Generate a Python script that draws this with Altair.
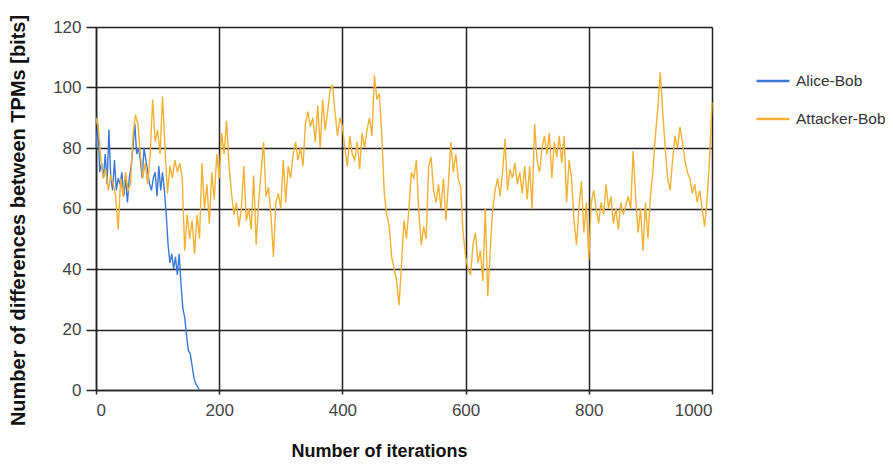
import altair as alt
import pandas as pd

# Alice-Bob: iteration step 3
alice_iter = list(range(0, 169, 3))
alice_vals = [80, 88, 72, 75, 70, 78, 68, 86, 70, 66,
              76, 66, 70, 68, 72, 64, 70, 62, 70, 74,
              80, 88, 78, 80, 76, 70, 80, 76, 72, 68,
              66, 70, 72, 64, 74, 66, 72, 66, 58, 48,
              42, 45, 40, 44, 38, 45, 35, 27, 24, 18,
              13, 12, 8, 4, 2, 1, 0]

# Attacker-Bob: iteration step 4
attacker_iter = list(range(0, 1001, 4))
attacker_vals = [
    90, 86, 76, 70, 73, 66, 71, 68, 64, 53,
    70, 64, 72, 66, 68, 84, 91, 88, 78, 70,
    75, 68, 78, 96, 82, 86, 78, 97, 80, 65,
    74, 70, 76, 72, 75, 70, 46, 58, 50, 56,
    45, 58, 50, 75, 60, 68, 55, 72, 63, 78,
    70, 85, 78, 89, 74, 65, 58, 62, 54, 60,
    74, 56, 60, 53, 71, 48, 62, 72, 82, 64,
    67, 58, 44, 62, 65, 60, 76, 62, 74, 70,
    78, 82, 76, 80, 74, 88, 92, 87, 90, 82,
    94, 80, 96, 86, 92, 99, 101, 92, 84, 90,
    87, 80, 74, 84, 78, 76, 82, 73, 85, 80,
    86, 90, 84, 104, 96, 98, 84, 65, 58, 54,
    44, 40, 36, 28, 42, 56, 50, 60, 72, 70,
    76, 59, 48, 54, 50, 74, 77, 66, 62, 68,
    60, 70, 56, 68, 82, 72, 78, 70, 67, 52,
    44, 40, 38, 48, 52, 42, 46, 36, 60, 31,
    46, 60, 66, 70, 64, 72, 83, 66, 73, 70,
    75, 68, 72, 65, 74, 63, 74, 60, 88, 76,
    72, 80, 84, 78, 85, 70, 82, 77, 84, 75,
    84, 62, 76, 70, 56, 48, 60, 69, 52, 62,
    43, 62, 66, 60, 55, 62, 58, 68, 60, 64,
    55, 60, 53, 62, 58, 61, 64, 60, 79, 64,
    52, 60, 46, 62, 50, 64, 72, 84, 93, 105,
    92, 80, 70, 66, 76, 84, 80, 87, 82, 76,
    72, 70, 65, 68, 62, 66, 60, 54, 63, 76,
    95,
]

series_names = ["Alice-Bob", "Attacker-Bob"]
series_colors = ["#3C78D8", "#F2B134"]
x_ticks = [0, 200, 400, 600, 800, 1000]
y_ticks = [0, 20, 40, 60, 80, 100, 120]

df = pd.concat([
    pd.DataFrame({"iter": alice_iter, "value": alice_vals, "series": series_names[0]}),
    pd.DataFrame({"iter": attacker_iter, "value": attacker_vals, "series": series_names[1]}),
])

FONT = "Liberation Sans"

chart = alt.Chart(df).mark_line(strokeWidth=1.4, interpolate="linear").encode(
    x=alt.X("iter:Q",
            scale=alt.Scale(domain=[0, 1000], nice=False),
            axis=alt.Axis(values=x_ticks, format="d", title="Number of iterations",
                          titleFont=FONT, titleFontSize=18, titleFontWeight="bold",
                          titleColor="#111", titleX=283, titleY=66,
                          titleBaseline="alphabetic", titleAnchor="start", titleAlign="center",
                          labelFont=FONT, labelFontSize=17, labelColor="#444",
                          labelPadding=8, tickSize=4, tickColor="#222", tickWidth=1.5,
                          domainColor="#222", domainWidth=1.5,
                          grid=True, gridColor="#222", gridWidth=1.5, gridOpacity=1)),
    y=alt.Y("value:Q",
            scale=alt.Scale(domain=[0, 120], nice=False),
            axis=alt.Axis(values=y_ticks, title="Number of differences between TPMs [bits]",
                          titleFont=FONT, titleFontSize=20, titleFontWeight="bold",
                          titleColor="#111", titleX=-72, titleY=193,
                          titleBaseline="alphabetic", titleAnchor="start", titleAlign="center",
                          labelFont=FONT, labelFontSize=17, labelColor="#444",
                          labelPadding=5, tickSize=10, tickColor="#222", tickWidth=1.5,
                          domainColor="#222", domainWidth=1.5,
                          grid=True, gridColor="#222", gridWidth=1.5, gridOpacity=1)),
    color=alt.Color("series:N",
                    scale=alt.Scale(domain=series_names, range=series_colors),
                    title=None,
                    legend=alt.Legend(orient="none", legendX=659, legendY=36,
                                      symbolType="stroke", symbolSize=1089,
                                      symbolStrokeWidth=2.5, rowPadding=11,
                                      labelFont=FONT, labelFontSize=15.5, labelColor="#333",
                                      labelOffset=5, labelLimit=300, padding=0)),
).properties(
    width=616, height=363,
    padding={"left": 88, "top": 19, "right": 173, "bottom": 73},
    autosize=alt.AutoSizeParams(type="none"),
).configure_view(stroke=None).configure(background="white")

chart.save("out.html", embed_options={"renderer": "svg", "actions": False})
